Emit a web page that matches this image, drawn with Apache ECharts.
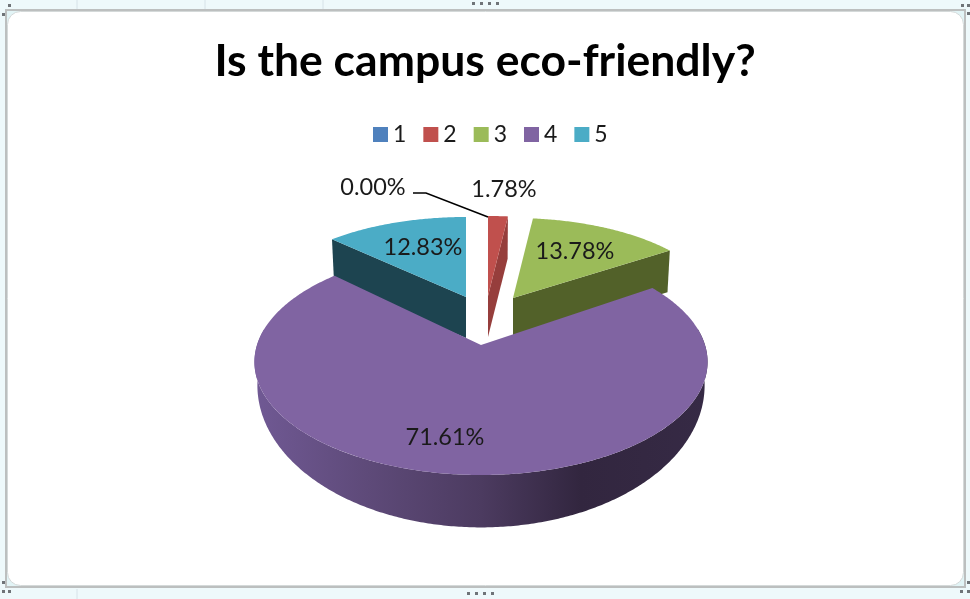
<!DOCTYPE html>
<html>
<head>
<meta charset="utf-8">
<title>Is the campus eco-friendly?</title>
<script src="https://cdn.jsdelivr.net/npm/echarts@6/dist/echarts.min.js"></script>
<style>
html, body { margin: 0; padding: 0; background: #eef9fb; }
#chart { width: 970px; height: 599px; }
</style>
</head>
<body>
<div id="chart"></div>
<script>
const categories = ['1', '2', '3', '4', '5']
const values = [0, 1.78, 13.78, 71.61, 12.83]
const colors = ['#4F81BD', '#C0504D', '#9BBB59', '#8064A2', '#4BACC6']
const sideColors = ['#3B608E', '#963E3C', '#526129', '#5A4673', '#1D4450']

// where each slice sits once exploded, one entry per category
const sliceLayout = [
  { apex: [488, 296], a: 205, b: 92, depth: 41, sx: 0.985, sy: 0.985, label: [373, 187] },
  { apex: [488, 296], a: 205, b: 92, depth: 41, sx: 0.985, sy: 0.985, label: [504, 189] },
  { apex: [513, 298], a: 205, b: 92, depth: 41, sx: 0.985, sy: 0.985, label: [575, 251] },
  { apex: [481, 345], a: 224, b: 110.5, depth: 19, sx: 0.987, sy: 1.257, label: [445, 437] },
  { apex: [466, 297], a: 205, b: 92, depth: 41, sx: 0.985, sy: 0.985, label: [423, 247] }
]
const perspective = 0.15
const labelFont = '23.5px Lato, "Open Sans", sans-serif'

const total = values.reduce((a, b) => a + b, 0)

function topPoint (lay, theta, r) {
  const u = Math.sin(theta) * r
  const v = -Math.cos(theta) * r
  const s = 1 / (1 - perspective * v)
  return [lay.apex[0] + lay.a * u * s, lay.apex[1] + lay.b * v * s]
}

function bottomPoint (lay, theta, r) {
  const p = topPoint(lay, theta, r)
  return [
    lay.apex[0] + (p[0] - lay.apex[0]) * lay.sx,
    lay.apex[1] + (p[1] - lay.apex[1]) * lay.sy + lay.depth
  ]
}

function arc (fn, lay, from, to) {
  const pts = []
  const n = Math.max(2, Math.ceil(Math.abs(to - from) / 0.01))
  for (let i = 0; i <= n; i++) {
    pts.push(fn(lay, from + (to - from) * i / n, 1))
  }
  return pts
}

function renderSlice (idx) {
  return function (params, api) {
    const value = api.value(0)
    const lay = sliceLayout[idx]
    const before = values.slice(0, idx).reduce((a, b) => a + b, 0)
    const t0 = before / total * Math.PI * 2
    const t1 = (before + value) / total * Math.PI * 2
    const children = []

    if (value > 0) {
      // cut faces that turn toward the viewer
      const edges = []
      if (t1 < Math.PI) edges.push(t1)
      if (t0 > Math.PI) edges.push(t0)
      edges.forEach((t) => {
        children.push({
          type: 'polygon',
          shape: {
            points: [topPoint(lay, t, 0), topPoint(lay, t, 1), bottomPoint(lay, t, 1), bottomPoint(lay, t, 0)]
          },
          style: { fill: sideColors[idx] }
        })
      })
      // outer wall, front part only
      const wallFrom = Math.max(t0, 1.42)
      const wallTo = Math.min(t1, Math.PI * 2 - 1.42)
      if (wallTo > wallFrom) {
        const pts = arc(topPoint, lay, wallFrom, wallTo)
          .concat(arc(bottomPoint, lay, wallTo, wallFrom))
        children.push({
          type: 'polygon',
          shape: { points: pts },
          style: {
            fill: new echarts.graphic.LinearGradient(0, 0, 1, 0, [
              { offset: 0, color: '#705994' },
              { offset: 0.25, color: '#5E4A79' },
              { offset: 0.5, color: '#4C3B60' },
              { offset: 0.72, color: '#32263F' },
              { offset: 1, color: '#362A45' }
            ])
          }
        })
      }
      // top face
      children.push({
        type: 'polygon',
        shape: { points: [lay.apex].concat(arc(topPoint, lay, t0, t1)) },
        style: { fill: colors[idx] }
      })
    } else {
      // empty slice keeps only its leader line
      children.push({
        type: 'polyline',
        shape: { points: [[413, 193], [426, 193], [488, 217]] },
        style: { stroke: '#000', lineWidth: 1.5, fill: 'none' }
      })
    }

    children.push({
      type: 'text',
      x: lay.label[0],
      y: lay.label[1],
      style: {
        text: value.toFixed(2) + '%',
        font: labelFont,
        fill: '#1a1a1a',
        align: 'center',
        verticalAlign: 'middle'
      }
    })
    return { type: 'group', children }
  }
}

// little sizing handles on the embedded chart frame
function handleDots (x, y, count, dx, dy) {
  const dots = []
  for (let i = 0; i < count; i++) {
    dots.push({
      type: 'rect',
      shape: { x: x + i * dx, y: y + i * dy, width: 3, height: 3 },
      style: { fill: '#6f7478' },
      silent: true
    })
  }
  return dots
}

function gridTick (x, y1, y2) {
  return { type: 'line', shape: { x1: x, y1, x2: x, y2 }, style: { stroke: '#d6e2e8', lineWidth: 1 }, silent: true, z: 0 }
}

const chart = echarts.init(document.getElementById('chart'))

const option = {
  animation: false,
  backgroundColor: '#eef9fb',
  title: {
    text: 'Is the campus eco-friendly?',
    left: 'center',
    top: 34,
    textStyle: {
      fontFamily: 'Lato, "Open Sans", sans-serif',
      fontSize: 44.5,
      fontWeight: 'bold',
      color: '#000'
    }
  },
  legend: {
    data: categories,
    left: 368,
    top: 118,
    icon: 'rect',
    itemWidth: 15,
    itemHeight: 15,
    itemGap: 17,
    selectedMode: false,
    textStyle: {
      fontFamily: 'Lato, "Open Sans", sans-serif',
      fontSize: 23,
      color: '#1a1a1a'
    }
  },
  graphic: {
    elements: [
      gridTick(77, 0, 10),
      gridTick(205, 0, 10),
      gridTick(323, 0, 10),
      gridTick(77, 589, 599),
      {
        type: 'rect',
        shape: { x: 6, y: 10, width: 959, height: 577 },
        style: { fill: '#e2f4f6', stroke: '#bcbfbf', lineWidth: 2 },
        silent: true,
        z: 0
      },
      {
        type: 'rect',
        shape: { x: 7.5, y: 11.5, width: 956, height: 574, r: 13 },
        style: { fill: '#fff', stroke: '#d4d9d9', lineWidth: 1 },
        silent: true,
        z: 0
      }
    ].concat(
      handleDots(472, 2, 4, 8, 0),
      handleDots(467, 592, 4, 8, 0),
      handleDots(2, 13, 1, 0, 0),
      handleDots(8, 4, 1, 0, 0),
      handleDots(961, 4, 1, 0, 0),
      handleDots(967, 4, 2, 0, 8),
      handleDots(8, 590, 1, 0, 0),
      handleDots(2, 581, 2, 0, 9),
      handleDots(960, 590, 1, 0, 0),
      handleDots(967, 581, 2, 0, 9)
    )
  },
  series: categories.map((name, i) => ({
    type: 'custom',
    name,
    coordinateSystem: 'none',
    silent: true,
    z: name === '4' ? 3 : 2,
    itemStyle: { color: colors[i] },
    data: [[values[i]]],
    renderItem: renderSlice(i)
  }))
}

chart.setOption(option)
window.addEventListener('resize', () => {
  chart.resize()
})
</script>
</body>
</html>
